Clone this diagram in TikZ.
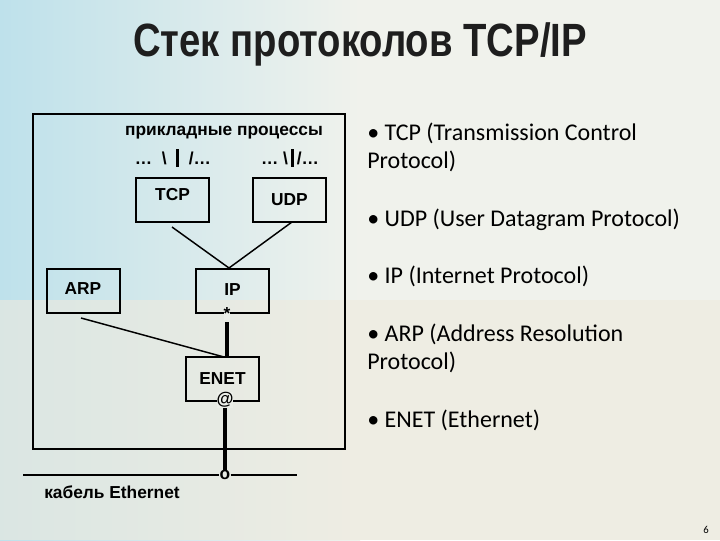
\documentclass[tikz,border=0pt]{standalone}
\usepackage{fontspec}
\setmainfont{Carlito}
\newfontfamily\arial{Liberation Sans}
\definecolor{bgl}{RGB}{190,225,235}
\definecolor{bgr}{RGB}{240,242,236}
\definecolor{bgb}{RGB}{238,234,222}
\definecolor{bgc}{RGB}{235,238,232}
\definecolor{ttl}{RGB}{30,30,30}
\begin{document}
\begin{tikzpicture}[x=0.75pt,y=-0.75pt,
  box/.style={draw,line width=1.5pt,minimum width=73*0.75pt,minimum height=44*0.75pt,inner sep=0pt,font=\arial\bfseries\fontsize{13}{13}\selectfont},
  lbl/.style={font=\arial\bfseries\fontsize{13}{13}\selectfont,inner sep=0pt},
  bul/.style={anchor=north west,align=left,font=\fontsize{18}{21}\selectfont,inner sep=0pt},
  ln/.style={line width=1.1pt},
  thk/.style={line width=2.4pt}]
\useasboundingbox (0,0) rectangle (720,540);
\fill[left color=bgl,right color=bgr] (0,0) rectangle (360,540);
\fill[bgr] (360,0) rectangle (720,540);
\fill[bgb,opacity=0.6] (0,300) rectangle (720,540);
\node[font=\arial\bfseries\fontsize{35}{35}\selectfont,xscale=0.82,text=ttl] (title) at (360,44) {Стек протоколов TCP/IP};
\draw[line width=1.8pt] (33,114) rectangle (345,449);
\node[lbl] (app) at (224,133) {прикладные процессы};
\node[lbl] (g1) at (173,158) {\ldots\ \ \textbackslash\ \ \rule[-2pt]{2.2pt}{13pt}\ \ /\ldots};
\node[lbl] (g2) at (290,158) {\ldots\ \textbackslash\,\rule[-2pt]{2.2pt}{13pt}\,/\ldots};
\node[box] (tcp) at (172.5,199.5) {\raisebox{8pt}{TCP}};
\node[box] (udp) at (289.5,199.5) {UDP};
\node[box] (ip) at (232.5,291) {\raisebox{2pt}{IP}};
\node[box] (arp) at (83,291) {\raisebox{3pt}{ARP}\hspace{18pt}};
\node[box] (enet) at (222.5,379) {\raisebox{-4pt}{ENET}};
\coordinate (j) at (229,268);
\draw[ln] (172,227) -- (j);
\draw[ln] (292,222) -- (j);
\node[lbl,fill=bgc] (star) at (227,314) {*};
\draw[thk] (227,322) -- (227,357);
\draw[ln] (81,318) -- (224,357);
\node[lbl,fill=bgc] (at) at (225,400) {@};
\node[lbl] (o) at (225,475) {o};
\draw[thk] (at.south) -- (o.north);
\draw[line width=1.6pt] (23,475) -- (o.west) (o.east) -- (297,475);
\node[lbl,anchor=west] (cab) at (44,492) {кабель Ethernet};
\node[bul] (b1) at (367,123) {• TCP (Transmission Control\\Protocol)};
\node[bul] (b2) at (367,209) {• UDP (User Datagram Protocol)};
\node[bul] (b3) at (367,266) {• IP (Internet Protocol)};
\node[bul] (b4) at (367,324) {• ARP (Address Resolution\\Protocol)};
\node[bul] (b5) at (367,410) {• ENET (Ethernet)};
\node[font=\fontsize{8}{8}\selectfont] (pg) at (706,530) {6};
\end{tikzpicture}
\end{document}
